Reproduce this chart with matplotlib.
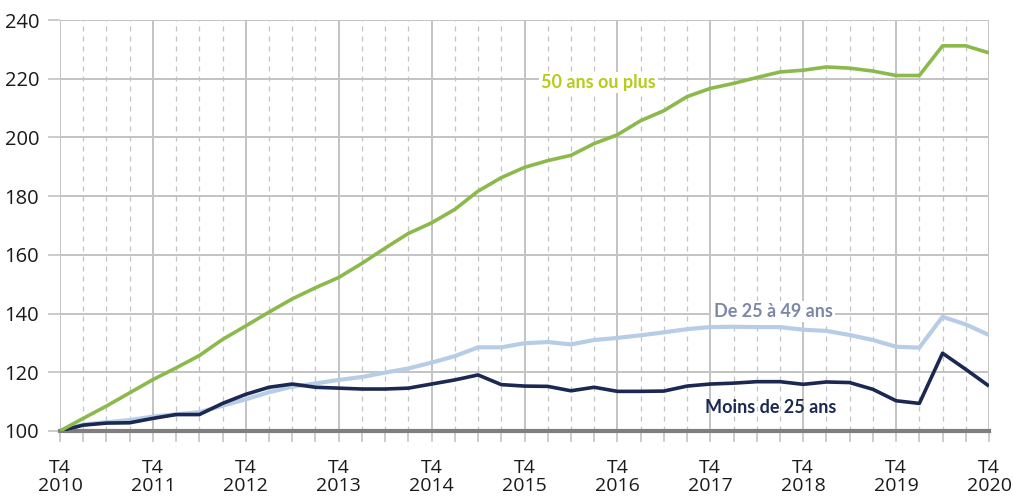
import matplotlib
matplotlib.use("Agg")
import matplotlib.pyplot as plt
import numpy as np

years = ["2010", "2011", "2012", "2013", "2014", "2015", "2016", "2017", "2018", "2019", "2020"]
quarter_label = "T4"

plus_50 = [100, 104.3, 108.5, 113.0, 117.5, 121.5, 125.7, 131.2, 135.8, 140.5,
           145.0, 148.8, 152.3, 157.1, 162.3, 167.3, 170.9, 175.5, 181.7, 186.3,
           189.8, 192.1, 193.9, 197.9, 200.9, 205.7, 209.1, 213.9, 216.7, 218.4,
           220.4, 222.3, 222.9, 224.0, 223.6, 222.6, 221.1, 221.1, 231.2, 231.2,
           228.8]
de_25_49 = [100, 102.2, 103.0, 103.7, 104.9, 105.7, 106.4, 108.6, 110.8, 113.2,
            115.1, 116.2, 117.4, 118.4, 119.9, 121.3, 123.3, 125.5, 128.5, 128.5,
            129.9, 130.3, 129.5, 131.0, 131.7, 132.6, 133.6, 134.7, 135.4, 135.5,
            135.4, 135.4, 134.5, 134.1, 132.7, 131.0, 128.7, 128.4, 138.9, 136.3,
            132.7]
moins_25 = [100, 102.0, 102.7, 102.8, 104.3, 105.6, 105.6, 109.4, 112.5, 114.9,
            116.0, 114.9, 114.6, 114.3, 114.3, 114.6, 116.0, 117.4, 119.1, 115.8,
            115.3, 115.2, 113.7, 114.9, 113.5, 113.5, 113.6, 115.3, 116.0, 116.3,
            116.8, 116.8, 115.9, 116.7, 116.5, 114.2, 110.3, 109.4, 126.5, 121.0,
            115.3]

series_names = ["50 ans ou plus", "De 25 à 49 ans", "Moins de 25 ans"]

fig = plt.figure(figsize=(10.13, 4.96), dpi=100)
ax = fig.add_axes([60 / 1013, 1 - 431 / 496, (989 - 60) / 1013, (431 - 20) / 496])

n = len(plus_50)
x = np.arange(n)
grid_c = "#c3c3c3"

# grid
for yv in range(120, 241, 20):
    ax.axhline(yv, color=grid_c, lw=1.4, zorder=1)
for q in range(n):
    if q % 4 == 0:
        ax.axvline(q, color=grid_c, lw=1.4, zorder=1)
    else:
        ax.axvline(q, color=grid_c, lw=0.9, ls=(0, (4, 4)), zorder=1)

ax.axhline(100, color="#7f7f7f", lw=3, zorder=2, clip_on=False)

ax.plot(x, de_25_49, color="#b7cde6", lw=3.0, zorder=3, solid_capstyle="butt")
ax.plot(x, moins_25, color="#1b2852", lw=2.6, zorder=4, solid_capstyle="butt")
ax.plot(x, plus_50, color="#8cb94b", lw=2.6, zorder=5, solid_capstyle="butt")

ax.set_xlim(0, n - 1)
ax.set_ylim(100, 240)

for s in ax.spines.values():
    s.set_visible(False)

ax.set_yticks(range(100, 241, 20))
ax.set_yticklabels([str(v) for v in range(100, 241, 20)])
ax.set_xticks(range(0, n, 4))
ax.set_xticklabels([f"{quarter_label}\n{y}" for y in years], linespacing=1.0)
ax.set_xticks(range(n), minor=True)
ax.tick_params(axis="x", which="both", length=8, color=grid_c, width=1.2,
               labelsize=14, pad=12, labelcolor="#1a1a1a")
ax.tick_params(axis="y", length=9, color=grid_c, width=1.2, labelsize=14.5,
               pad=6, labelcolor="#1a1a1a")
for lab in ax.get_xticklabels() + ax.get_yticklabels():
    lab.set_family("Open Sans")

bbox = dict(facecolor="white", edgecolor="none", pad=1.5)
ax.text(23.2, 218.6, series_names[0], color="#b5cc1a", fontsize=13, fontweight="bold",
        family="Lato", ha="center", va="center", bbox=bbox, zorder=6)
ax.text(30.7, 140.6, series_names[1], color="#7d87a8", fontsize=13, fontweight="bold",
        family="Lato", ha="center", va="center", bbox=bbox, zorder=6)
ax.text(30.6, 107.9, series_names[2], color="#1b2852", fontsize=13, fontweight="bold",
        family="Lato", ha="center", va="center", zorder=6)

fig.savefig("out.png", dpi=100)
